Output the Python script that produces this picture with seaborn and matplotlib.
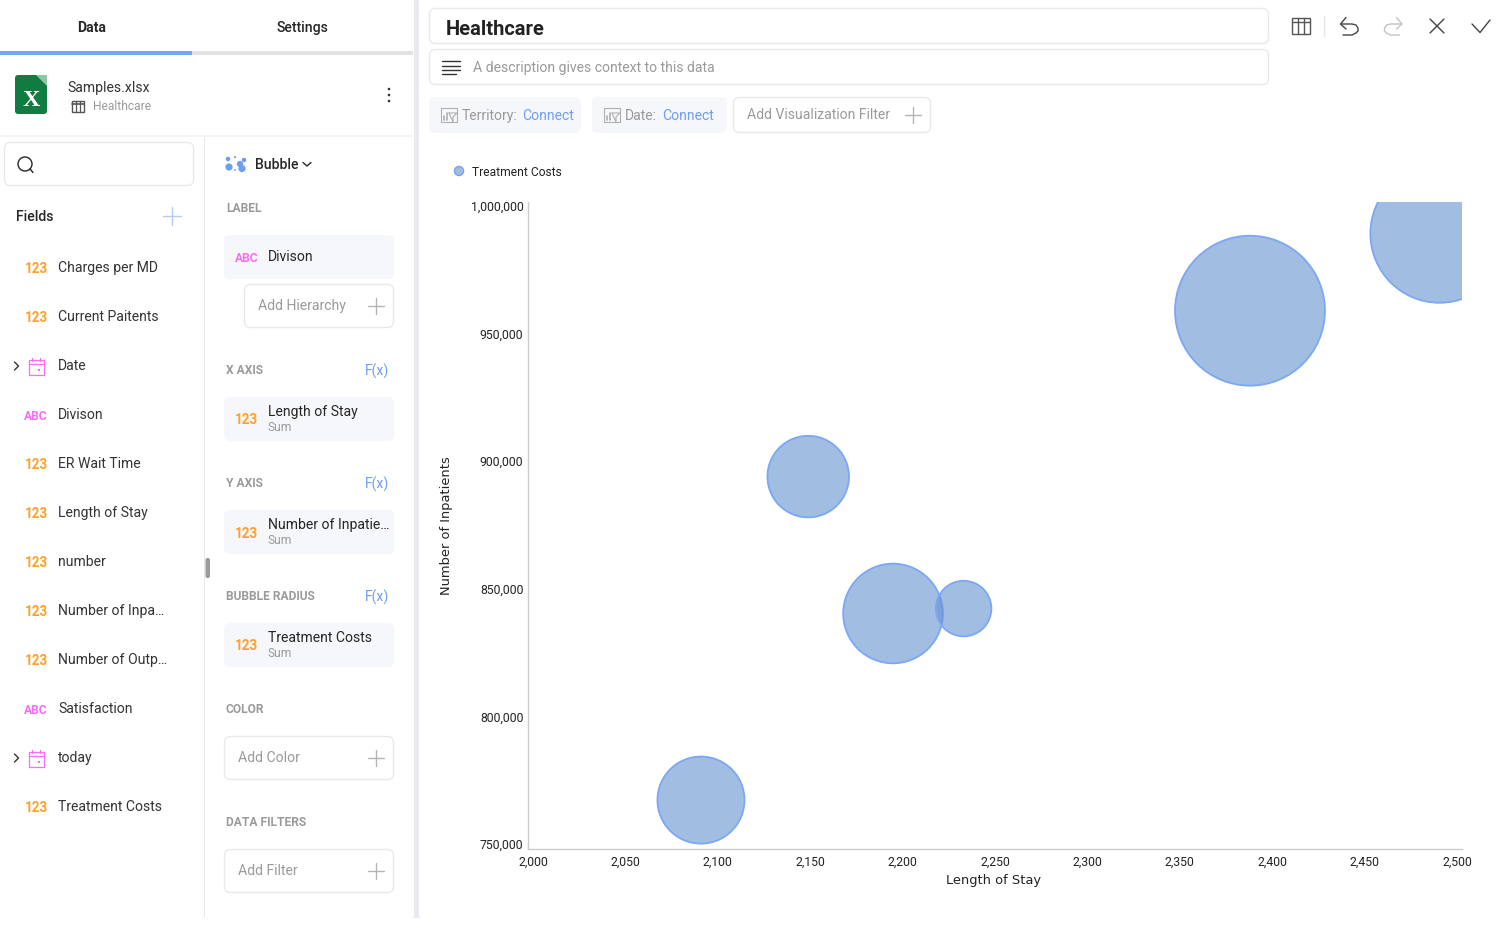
import matplotlib
matplotlib.use('Agg')
import logging
import pandas as pd
import seaborn as sns
import matplotlib.pyplot as plt
from matplotlib.patches import FancyBboxPatch, Circle, Rectangle, Polygon
from matplotlib.ticker import FuncFormatter
from matplotlib.transforms import ScaledTranslation

logging.getLogger('matplotlib.font_manager').setLevel(logging.ERROR)

# chart data
length_of_stay = [2092.6, 2150, 2195.4, 2233.2, 2386.5, 2488]
inpatients = [768900, 893900, 841000, 842900, 958000, 987800]
treatment_costs = [18700, 16400, 24500, 7600, 55500, 47300]

# side panel text
field_names = ['Charges per MD', 'Current Paitents', 'Date', 'Divison', 'ER Wait Time',
               'Length of Stay', 'number', 'Number of Inpa…', 'Number of Outp…',
               'Satisfaction', 'today', 'Treatment Costs']
field_kinds = ['123', '123', 'date', 'ABC', '123', '123', '123', '123', '123', 'ABC', 'date', '123']
x_ticks = [2000, 2050, 2100, 2150, 2200, 2250, 2300, 2350, 2400, 2450, 2500]
y_ticks = [750000, 800000, 850000, 900000, 950000, 1000000]

W, H = 1508, 934
DARK = '#262626'
GREY = '#9a9a9a'
BORDER = '#e8e9ef'
CARD = '#f6f7fb'
BLUE = '#6f9df0'
ORANGE = '#ffa127'
PINK = '#f86cf8'

sns.set_theme(style='white')
plt.rcParams['font.family'] = ['Roboto', 'DejaVu Sans']

fig = plt.figure(figsize=(W / 100, H / 100), dpi=100, facecolor='white')

# everything around the chart is drawn in pixel coordinates
ui = fig.add_axes([0, 0, 1, 1], zorder=1)
ui.set_xlim(0, W)
ui.set_ylim(H, 0)
ui.axis('off')


def px(size):
    return size * 0.72


def label(x, y, s, size=14, color=DARK, weight='normal', ha='left', **kw):
    ui.text(x, y - 1.7, s, fontsize=px(size), color=color, weight=weight, ha=ha,
            va='center_baseline', **kw)


def box(x0, y0, x1, y1, fc='white', ec=BORDER, r=6, lw=1.0):
    ui.add_patch(FancyBboxPatch((x0, y0), x1 - x0, y1 - y0,
                                boxstyle=f'round,pad=0,rounding_size={r}',
                                fc=fc, ec=ec, lw=lw))


def line(xs, ys, color=DARK, lw=1.0):
    ui.plot(xs, ys, color=color, lw=lw, solid_capstyle='round', solid_joinstyle='round')


def plus(x, y, color='#b5b5b5', s=8):
    line([x - s, x + s], [y, y], color)
    line([x, x], [y - s, y + s], color)


def add_box(x0, y0, x1, y1, text):
    box(x0, y0, x1, y1)
    label(x0 + 13.5, (y0 + y1) / 2, text, 14, GREY)
    plus(x1 - 18, (y0 + y1) / 2)


def kind_mark(x, y, kind):
    if kind == '123':
        label(x, y + 1.7, '123', 13.5, ORANGE, 'bold', ha='center')
    elif kind == 'ABC':
        label(x, y + 1.7, 'ABC', 12, PINK, 'bold', ha='center')
    else:
        ui.add_patch(Rectangle((x - 7.5, y - 6), 15, 15, fc='none', ec=PINK, lw=0.9))
        line([x - 7.5, x + 7.5], [y - 2, y - 2], PINK, 0.9)
        line([x - 4, x - 4], [y - 8, y - 5], PINK, 0.9)
        line([x + 4, x + 4], [y - 8, y - 5], PINK, 0.9)
        ui.add_patch(Rectangle((x + 2, y + 3), 2, 2, fc=PINK, ec='none'))


def card(y0, title, sub=None, kind='123'):
    box(224, y0, 394, y0 + 44, fc=CARD, ec='none')
    kind_mark(246.5, y0 + 22, kind)
    if sub:
        label(268, y0 + 15, title, 14)
        label(268, y0 + 31, sub, 12, GREY)
    else:
        label(268, y0 + 22, title, 14)


def section(y, text, fx=False):
    label(226, y + 1, text, 12, GREY, 'bold')
    if fx:
        label(376.5, y + 1, 'F(x)', 14, BLUE, ha='center')


def filter_icon(x, y):
    c = '#b0b0b0'
    ui.add_patch(Rectangle((x - 8, y - 7), 16, 14, fc='none', ec=c, lw=0.8))
    line([x - 5, x - 5], [y + 5, y + 1], c, 1.2)
    line([x - 2.5, x - 2.5], [y + 5, y - 2], c, 1.2)
    line([x, x + 8, x + 4, x + 4, x], [y - 2, y - 2, y + 2, y + 7, y - 2], c, 0.8)


# tabs and source header
label(92, 28, 'Data', 14, DARK, 'bold', ha='center')
label(302, 28, 'Settings', 14, DARK, 500, ha='center')
ui.add_patch(Rectangle((192, 51), 221, 4, fc='#e2e2e2', ec='none'))
ui.add_patch(Rectangle((0, 51), 192, 4, fc='#7ba4ec', ec='none'))
box(15, 75, 47, 114, fc='#107c41', ec='none', r=3)
ui.add_patch(Polygon([(36, 75), (47, 75), (47, 86)], fc='#8fc4a4', ec='none'))
label(31, 100, 'X', 24, 'white', 'bold', ha='center', family='Liberation Serif')
label(67.5, 88, 'Samples.xlsx', 14, '#333333')
ui.add_patch(Rectangle((72, 101), 12, 10.5, fc='none', ec='#555555', lw=1))
for gx in (76, 80):
    line([gx, gx], [101, 111.5], '#555555', 0.9)
line([72, 84], [103.5, 103.5], '#555555', 1.2)
label(93, 107, 'Healthcare', 12, GREY)
for dy in (-6, 0, 6):
    ui.add_patch(Circle((389, 95 + dy), 1.3, fc='#333333', ec='none'))
ui.add_patch(Rectangle((0, 135), 413, 2, fc='#f3f3f8', ec='none'))
ui.add_patch(Rectangle((204, 137), 1, 780, fc=BORDER, ec='none'))
ui.add_patch(Rectangle((414, 0), 5, 917, fc='#e9e9ef', ec='none'))
ui.add_patch(Rectangle((412, 917), 9, 1, fc='#ededf2', ec='none'))

# fields list
box(4.5, 142.5, 193.5, 185.5)
ui.add_patch(Circle((25, 164), 7, fc='none', ec=DARK, lw=1))
line([30, 33], [169, 172.5], DARK)
label(16, 217, 'Fields', 14, DARK, 500)
plus(172, 216, '#b6cbf2', 9)
for i, (name, kind) in enumerate(zip(field_names, field_kinds)):
    fy = 267.5 + 49 * i
    kind_mark(36, fy, kind)
    label(58, fy + 0.5, name, 14, '#333333')
    if kind == 'date':
        line([14.5, 18.5, 14.5], [fy - 3.5, fy + 0.5, fy + 4.5], '#333333')
box(205.5, 558, 210, 578, fc='#9b9b9b', ec='none', r=2)

# field wells
for cx, cy, r in [(229, 167, 4), (240, 164, 3.5), (228, 159, 2.5), (242, 168.5, 4),
                  (235, 157, 1.2), (244, 160, 2.5), (235, 170, 1)]:
    ui.add_patch(Circle((cx, cy), r * 0.9, fc=BLUE, ec='none'))
label(255, 165, 'Bubble', 14, DARK, 500)
line([303, 307, 311], [162.5, 166, 162.5], DARK)
section(208, 'LABEL')
card(235, 'Divison', kind='ABC')
add_box(244.5, 284.5, 393.5, 327.5, 'Add Hierarchy')
section(370, 'X AXIS', True)
card(397, 'Length of Stay', 'Sum')
section(483, 'Y AXIS', True)
card(510, 'Number of Inpatie…', 'Sum')
section(596, 'BUBBLE RADIUS', True)
card(623, 'Treatment Costs', 'Sum')
section(709, 'COLOR')
add_box(224.5, 736.5, 393.5, 779.5, 'Add Color')
section(822, 'DATA FILTERS')
add_box(224.5, 849.5, 393.5, 892.5, 'Add Filter')

# title bar
box(429.5, 8.5, 1268.5, 43.5)
label(446, 29, 'Healthcare', 20.2, '#222222', 'bold')
box(429.5, 49.5, 1268.5, 84.5)
for ly, x1 in [(61, 460), (65.5, 460), (70, 460), (74, 456)]:
    line([442, x1], [ly, ly], '#333333')
label(473, 68, 'A description gives context to this data', 14, GREY)

# filter chips
box(429, 97, 581, 133, fc=CARD, ec='none')
filter_icon(449, 115)
label(462, 116, 'Territory:', 14, GREY)
label(522, 116, 'Connect', 14, BLUE)
box(592, 97, 727, 133, fc=CARD, ec='none')
filter_icon(612, 115)
label(625, 116, 'Date:', 14, GREY)
label(662, 116, 'Connect', 14, BLUE)
box(733.5, 97.5, 930.5, 132.5)
label(747, 115, 'Add Visualization Filter', 14, GREY)
plus(913, 115)

# toolbar icons
ui.add_patch(Rectangle((1292, 18), 17.5, 16, fc='none', ec='#555555', lw=1))
for gx in (1298, 1304):
    line([gx, gx], [18, 34], '#555555')
line([1292, 1309.5], [22, 22], '#555555')
line([1323.5, 1323.5], [16, 36], '#e6e6e6')
undo_x = [1341, 1352, 1356, 1358, 1358, 1356, 1352, 1343]
undo_y = [24, 24, 25, 28, 31, 33, 35, 35]
line(undo_x, undo_y, '#444444')
line([1346, 1340.5, 1346], [17.5, 24, 29], '#444444')
line([2742.5 - v for v in undo_x], undo_y, '#c4c4c4')
line([1396.5, 1402, 1396.5], [17.5, 24, 29], '#c4c4c4')
line([1430, 1444], [19, 33], '#444444')
line([1430, 1444], [33, 19], '#444444')
line([1472, 1480, 1490], [24, 32.5, 20], '#444444')

# legend entry
ui.add_patch(Circle((459, 171), 4.5, fc='#a2bde1', ec='#7ba4f0', lw=1.1))
label(472, 172.5, 'Treatment Costs', 12, '#222222')

# the chart
df = pd.DataFrame({'Length of Stay': length_of_stay,
                   'Number of Inpatients': inpatients,
                   'Treatment Costs': treatment_costs})

ax = fig.add_axes([528 / W, 1 - 849 / H, (1462 - 528) / W, (849 - 202) / H], zorder=2)
ax.patch.set_alpha(0)
sns.scatterplot(data=df, x='Length of Stay', y='Number of Inpatients', size='Treatment Costs',
                sizes=(1600, 11650), legend=False, ax=ax)
bubbles = ax.collections[0]
bubbles.set_facecolor((0.39, 0.57, 0.81, 0.6))
bubbles.set_edgecolor('#7ba7f5')
bubbles.set_linewidth(1.3)

ax.set_xlim(2000, 2500)
ax.set_ylim(750000, 1000000)
ax.set_xticks(x_ticks)
ax.set_yticks(y_ticks)
ax.xaxis.set_major_formatter(FuncFormatter(lambda v, p: f'{v:,.0f}'))
ax.yaxis.set_major_formatter(FuncFormatter(lambda v, p: f'{v:,.0f}'))
ax.tick_params(axis='both', length=0, labelsize=px(12.3), labelcolor='#222222')
ax.tick_params(axis='x', pad=px(7))
ax.tick_params(axis='y', pad=px(4.5))
sns.despine(ax=ax)
for side in ('left', 'bottom'):
    ax.spines[side].set_color('#cccccc')
    ax.spines[side].set_linewidth(1.0)
ax.set_xlabel('Length of Stay', fontsize=px(13), color='#222222', labelpad=px(5), family='DejaVu Sans')
ax.set_ylabel('Number of Inpatients', fontsize=px(13), color='#222222', labelpad=px(18), family='DejaVu Sans')
ax.xaxis.label.set_x(0.498)

# the labels sit slightly inside the axis ends
for i, tick in enumerate(ax.get_xticklabels()):
    tick.set_transform(tick.get_transform() + ScaledTranslation((5 - i) / 100, 0, fig.dpi_scale_trans))
for i, tick in enumerate(ax.get_yticklabels()):
    tick.set_transform(tick.get_transform() + ScaledTranslation(0, (5 - 1.8 * i) / 100, fig.dpi_scale_trans))

fig.savefig('out.png', dpi=100)
